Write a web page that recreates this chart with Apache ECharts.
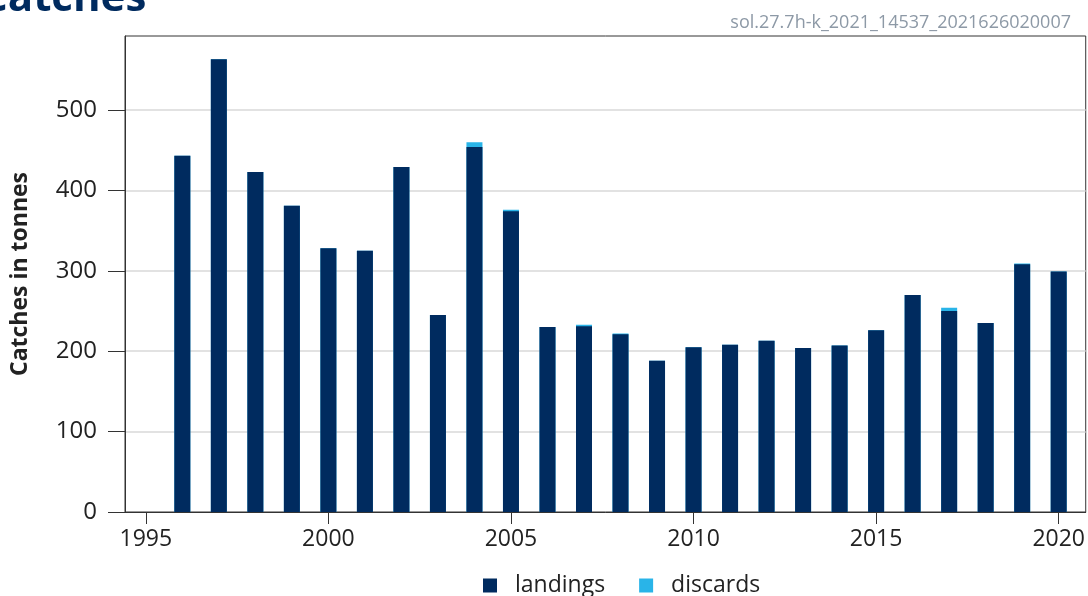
<!DOCTYPE html>
<html>
<head>
<meta charset="utf-8">
<script src="https://cdn.jsdelivr.net/npm/echarts@6/dist/echarts.min.js"></script>
<style>html,body{margin:0;padding:0;background:#fff}#c{width:1088px;height:596px}</style>
</head>
<body>
<div id="c"></div>
<script>
const years = [1996,1997,1998,1999,2000,2001,2002,2003,2004,2005,2006,2007,2008,2009,2010,2011,2012,2013,2014,2015,2016,2017,2018,2019,2020];
const landings = [443,563,423,381,328,325,429,245,454,374,230,231,221,188,205,208,213,204,207,226,270,250,235,308,299];
const discards = [0,0,0,0,0,0,0,0,6,2,0,2,1,0,0,0,0,0,0,0,0,4,0,1,0];
const xTicks = [1995,2000,2005,2010,2015,2020];
const yTicks = [0,100,200,300,400,500];

const chart = echarts.init(document.getElementById('c'));
const font = '"Open Sans", "Noto Sans", sans-serif';
chart.setOption({
  animation: false,
  textStyle: {fontFamily: font},
  title: [
    {text: 'Catches', left: -24, top: -27, textStyle: {fontSize: 42, fontWeight: 'bold', color: '#002b5f', fontFamily: font}},
    {text: 'sol.27.7h-k_2021_14537_2021626020007', right: 12, top: 9, textStyle: {fontSize: 18, fontWeight: 'normal', color: '#8d99a6', fontFamily: font}}
  ],
  legend: {
    bottom: -6, left: 478, icon: 'rect', itemWidth: 14, itemHeight: 14, itemGap: 34,
    textStyle: {fontSize: 23, color: '#222', fontFamily: font, padding: [0, 0, 0, 13]},
    data: ['landings', 'discards']
  },
  grid: {left: 125, right: 2, top: 36, bottom: 84, show: true, borderColor: '#333', borderWidth: 1, containLabel: false},
  xAxis: {
    type: 'value', min: 1994.43, max: 2020.74,
    axisLine: {show: true, lineStyle: {color: '#333'}},
    axisTick: {show: true, length: 12, lineStyle: {color: '#333'}, customValues: xTicks},
    axisLabel: {fontSize: 23, color: '#222', margin: 16, customValues: xTicks, formatter: v => String(v)},
    splitLine: {show: false}
  },
  yAxis: {
    type: 'value', min: 0, max: 592,
    name: 'Catches in tonnes', nameLocation: 'middle', nameGap: 93,
    nameTextStyle: {fontSize: 23, fontWeight: 'bold', color: '#222', fontFamily: font},
    axisLine: {show: true, lineStyle: {color: '#333'}},
    axisTick: {show: true, length: 17, lineStyle: {color: '#333'}, customValues: yTicks},
    axisLabel: {fontSize: 24, color: '#222', margin: 28, customValues: yTicks},
    splitLine: {show: true, lineStyle: {color: '#d9d9d9', width: 1.5}, showMinLine: false}
  },
  series: [
    {name: 'discards', type: 'bar', barWidth: 16, barGap: '-100%', z: 2, itemStyle: {color: '#29b4e8'},
     data: years.map((y, i) => [y, landings[i] + discards[i]])},
    {name: 'landings', type: 'bar', barWidth: 16, barGap: '-100%', z: 3, itemStyle: {color: '#002b5f'},
     data: years.map((y, i) => [y, landings[i]])}
  ]
});
</script>
</body>
</html>
